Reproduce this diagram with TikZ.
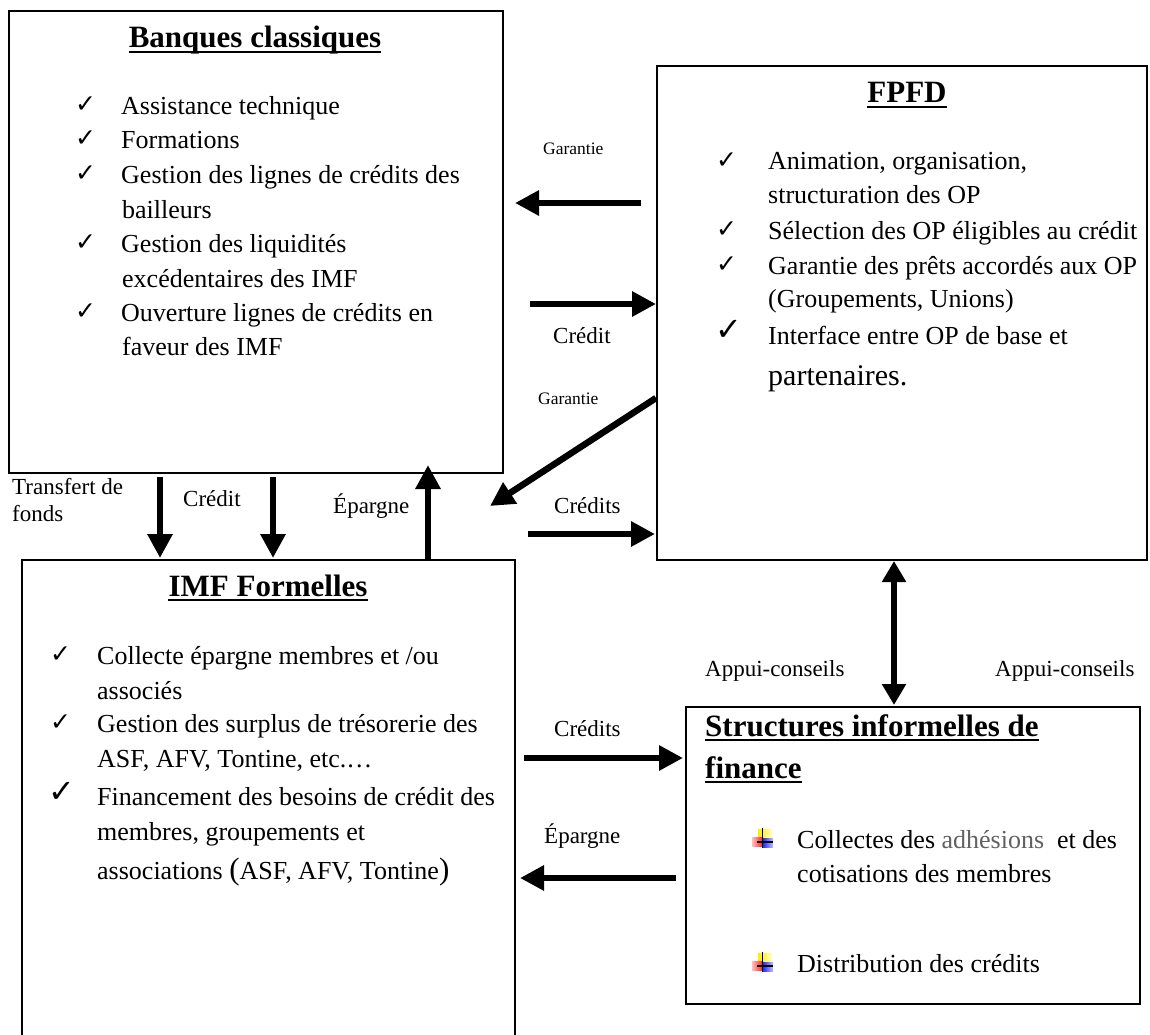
\documentclass[tikz,border=0pt]{standalone}
\usepackage{fontspec}
\setmainfont{Liberation Serif}
\newfontfamily\djv{DejaVu Sans}
\usetikzlibrary{arrows.meta}
\begin{document}
\begin{tikzpicture}[x=1pt,y=-1pt,
  box/.style={draw,line width=1.6pt,inner sep=0pt,anchor=north west},
  txt/.style={inner sep=0pt,anchor=base west,font=\fontsize{26}{30}\selectfont},
  lbl/.style={inner sep=0pt,anchor=base west,font=\fontsize{23}{27}\selectfont},
  slbl/.style={inner sep=0pt,anchor=base west,font=\fontsize{17.5}{20}\selectfont},
  ttl/.style={inner sep=0pt,anchor=base,font=\bfseries\fontsize{31}{36}\selectfont},
  chk/.style={inner sep=0pt,anchor=base west,font=\djv\fontsize{25}{25}\selectfont},
  bigchk/.style={inner sep=0pt,anchor=base west,font=\djv\fontsize{32}{32}\selectfont},
  flow/.style={line width=6.5pt,-{Triangle[width=24pt,length=24pt]}},
  dflow/.style={line width=6pt,{Triangle[width=23pt,length=21pt]}-{Triangle[width=23pt,length=21pt]}},
  uline/.style={line width=2.2pt},
  icon/.pic={
    \shade[left color=yellow!85!orange,right color=yellow!25] (6,0) rectangle (20,9);
    \shade[left color=red!25,right color=red!90] (0,8) rectangle (11,17);
    \shade[left color=blue!90,right color=blue!25] (10,9) rectangle (21,18);
    \draw[line width=1.4pt] (10.5,-1) -- (10.5,19);
    \draw[line width=1.8pt] (5,13) -- (21,13);
  }
]
\useasboundingbox (0,0) rectangle (1150,1035);
\clip (0,0) rectangle (1150,1035);

% boxes
\node[box,minimum width=494pt,minimum height=462pt] (banq) at (8,10) {};
\node[box,minimum width=490pt,minimum height=494pt] (fpfd) at (656,65) {};
\node[box,minimum width=493pt,minimum height=500pt] (imf) at (21,559) {};
\node[box,minimum width=454pt,minimum height=297pt] (strc) at (685,706) {};

% titles
\node[ttl] (tb) at (255,48) {Banques classiques};
\node[ttl] (tf) at (907,103) {FPFD};
\node[ttl] (ti) at (268,596) {IMF Formelles};
\node[ttl,anchor=base west] (ts1) at (705,736) {Structures informelles de};
\node[ttl,anchor=base west] (ts2) at (705,778) {finance};
\foreach \t in {tb,tf,ti,ts1,ts2}
  \draw[uline] ([yshift=-4pt]\t.base west) -- ([yshift=-4pt]\t.base east);

% Banques classiques
\node[chk] (cb1) at (75,113) {✓};
\node[chk] (cb2) at (75,147) {✓};
\node[chk] (cb3) at (75,182) {✓};
\node[chk] (cb4) at (75,250) {✓};
\node[chk] (cb5) at (75,319) {✓};
\node[txt] (b1) at (121,115) {Assistance technique};
\node[txt] (b2) at (121,149) {Formations};
\node[txt] (b3) at (121,184) {Gestion des lignes de crédits des};
\node[txt] (b3b) at (122,218) {bailleurs};
\node[txt] (b4) at (121,252) {Gestion des liquidités};
\node[txt] (b4b) at (122,287) {excédentaires des IMF};
\node[txt] (b5) at (121,321) {Ouverture lignes de crédits en};
\node[txt] (b5b) at (122,355) {faveur des IMF};

% FPFD
\node[chk] (cf1) at (716,168) {✓};
\node[chk] (cf2) at (716,237) {✓};
\node[chk] (cf3) at (716,272) {✓};
\node[bigchk] (cf4) at (715,340) {✓};
\node[txt] (f1) at (768,170) {Animation, organisation,};
\node[txt] (f1b) at (768,204) {structuration des OP};
\node[txt] (f2) at (768,239) {Sélection des OP éligibles au crédit};
\node[txt] (f3) at (768,274) {Garantie des prêts accordés aux OP};
\node[txt] (f3b) at (768,307) {(Groupements, Unions)};
\node[txt] (f4) at (768,344) {Interface entre OP de base et};
\node[txt,font=\fontsize{30}{34}\selectfont] (f4b) at (768,385) {partenaires.};

% IMF Formelles
\node[chk] (ci1) at (50,662) {✓};
\node[chk] (ci2) at (50,730) {✓};
\node[bigchk] (ci3) at (48,802) {✓};
\node[txt] (i1) at (97,664) {Collecte épargne membres et /ou};
\node[txt] (i1b) at (97,699) {associés};
\node[txt] (i2) at (97,732) {Gestion des surplus de trésorerie des};
\node[txt] (i2b) at (97,767) {ASF, AFV, Tontine, etc.…};
\node[txt] (i3) at (97,805) {Financement des besoins de crédit des};
\node[txt] (i3b) at (97,840) {membres, groupements et};
\node[txt] (i3c) at (97,879) {associations {\fontsize{31}{31}\selectfont(}ASF, AFV, Tontine{\fontsize{31}{31}\selectfont)}};

% Structures informelles
\pic (ic1) at (752,829) {icon};
\pic (ic2) at (752,953) {icon};
\node[txt] (s1) at (797,848) {Collectes des \textcolor{black!62}{adhésions}\ \ et des};
\node[txt] (s1b) at (797,882) {cotisations des membres};
\node[txt] (s2) at (797,972) {Distribution des crédits};

% connector end points
\coordinate (g1s) at (641,203); \coordinate (g1e) at (515,203);
\coordinate (c1s) at (530,304); \coordinate (c1e) at (656,304);
\coordinate (g2s) at (656,398); \coordinate (g2e) at (490,506);
\coordinate (c2s) at (528,534); \coordinate (c2e) at (655,534);
\coordinate (d1s) at (160,477); \coordinate (d1e) at (160,558);
\coordinate (d2s) at (273,477); \coordinate (d2e) at (273,558);
\coordinate (e1s) at (428,559); \coordinate (e1e) at (428,465);
\coordinate (a1s) at (894,561); \coordinate (a1e) at (894,705);
\coordinate (c3s) at (524,758); \coordinate (c3e) at (683,758);
\coordinate (e2s) at (676,878); \coordinate (e2e) at (520,878);

% arrows
\draw[flow] (g1s) -- (g1e);
\draw[flow] (c1s) -- (c1e);
\draw[flow] (g2s) -- (g2e);
\draw[flow] (c2s) -- (c2e);
\draw[flow] (d1s) -- (d1e);
\draw[flow] (d2s) -- (d2e);
\draw[flow] (e1s) -- (e1e);
\draw[dflow] (a1s) -- (a1e);
\draw[flow] (c3s) -- (c3e);
\draw[flow] (e2s) -- (e2e);

% labels
\node[slbl] (lg1) at (543,155) {Garantie};
\node[lbl] (lc1) at (553,343) {Crédit};
\node[slbl] (lg2) at (538,404) {Garantie};
\node[lbl] (lc2) at (554,513) {Crédits};
\node[lbl] (lt1) at (12,494) {Transfert de};
\node[lbl] (lt2) at (12,521) {fonds};
\node[lbl] (lc3) at (183,506) {Crédit};
\node[lbl] (le1) at (333,513) {Épargne};
\node[lbl] (la1) at (705,676) {Appui-conseils};
\node[lbl] (la2) at (995,676) {Appui-conseils};
\node[lbl] (lc4) at (554,736) {Crédits};
\node[lbl] (le2) at (544,843) {Épargne};
\end{tikzpicture}
\end{document}
